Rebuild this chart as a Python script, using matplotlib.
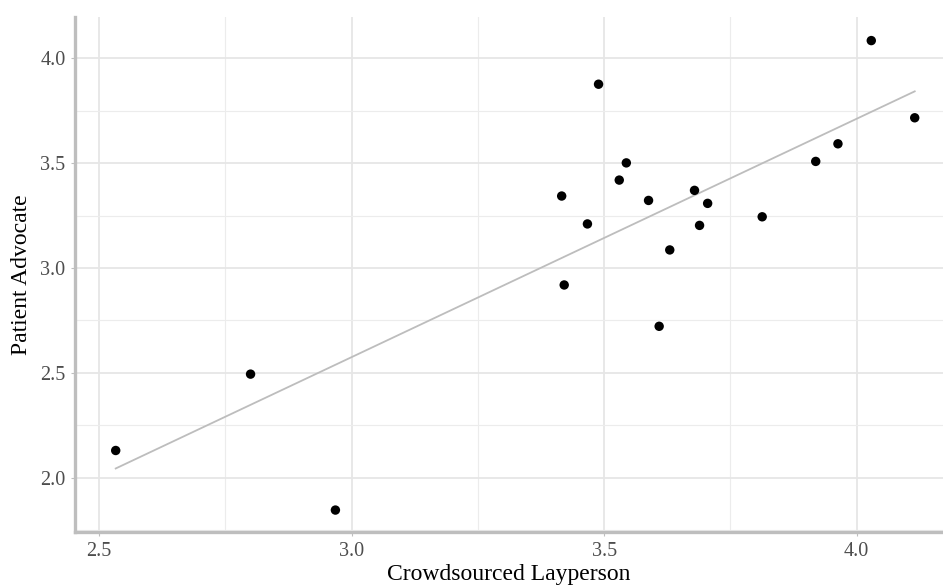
import matplotlib
matplotlib.use("Agg")
import matplotlib.pyplot as plt
import numpy as np
from matplotlib.ticker import MultipleLocator

# Crowdsourced layperson score vs patient advocate score
layperson = [2.533, 2.800, 2.968, 3.416, 3.421, 3.467, 3.489, 3.530, 3.544,
             3.588, 3.609, 3.630, 3.679, 3.689, 3.705, 3.813, 3.919, 3.963,
             4.029, 4.115]
advocate = [2.130, 2.494, 1.846, 3.343, 2.919, 3.210, 3.876, 3.419, 3.501,
            3.322, 2.722, 3.086, 3.370, 3.203, 3.308, 3.244, 3.508, 3.592,
            4.084, 3.716]
x_ticks = [2.5, 3.0, 3.5, 4.0]
y_ticks = [2.0, 2.5, 3.0, 3.5, 4.0]

plt.rcParams["font.family"] = ["Liberation Serif", "DejaVu Serif"]

fig = plt.figure(figsize=(9.43, 5.88), dpi=100)
ax = fig.add_axes([75.3 / 943, 1 - 532.3 / 588, 1 - 75.3 / 943, (532.3 - 17.3) / 588])

x = np.array(layperson)
y = np.array(advocate)
slope, intercept = np.polyfit(x, y, 1)
xs = np.array([x.min(), x.max()])
ax.plot(xs, slope * xs + intercept, color="#bdbdbd", lw=1.3, zorder=2)
ax.scatter(x, y, s=46, color="black", edgecolors="none", zorder=3)

ax.set_xlim(2.453, 4.171)
ax.set_ylim(1.74, 4.195)
ax.set_xticks(x_ticks)
ax.set_yticks(y_ticks)
ax.set_xticklabels([f"{v:.1f}" for v in x_ticks])
ax.set_yticklabels([f"{v:.1f}" for v in y_ticks])
ax.xaxis.set_minor_locator(MultipleLocator(0.25))
ax.yaxis.set_minor_locator(MultipleLocator(0.25))

ax.grid(True, which="major", color="#e6e6e6", lw=1.3, zorder=0)
ax.grid(True, which="minor", color="#ececec", lw=0.8, zorder=0)
ax.set_axisbelow(True)

for side in ("top", "right"):
    ax.spines[side].set_visible(False)
for side in ("left", "bottom"):
    ax.spines[side].set_color("#bebebe")
    ax.spines[side].set_linewidth(2.4)

ax.tick_params(which="major", length=3, width=0.8, color="#bebebe",
               labelsize=14.5, labelcolor="#4d4d4d", pad=4)
ax.tick_params(which="minor", length=0)

ax.set_xlabel("Crowdsourced Layperson", fontsize=17, labelpad=2)
ax.set_ylabel("Patient Advocate", fontsize=17, labelpad=6)

fig.savefig("out.png", dpi=100)
